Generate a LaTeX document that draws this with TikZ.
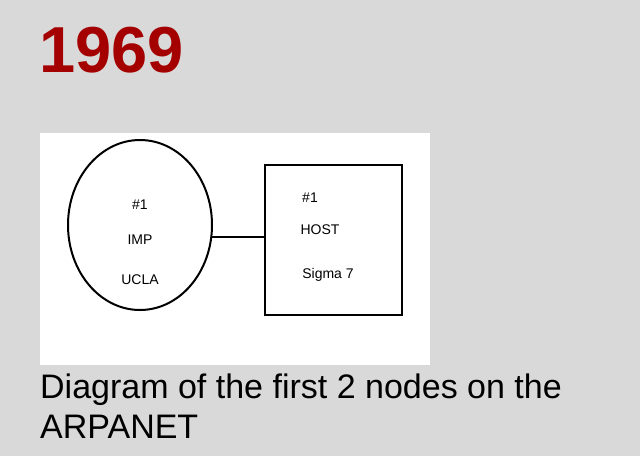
\documentclass[tikz,border=0pt]{standalone}
\usepackage{fontspec}
\setmainfont{Liberation Sans}
\definecolor{bg}{HTML}{D9D9D9}
\definecolor{yr}{HTML}{A50000}
\tikzset{hand/.style={font=\fontsize{14}{14}\selectfont, inner sep=0pt},
  ink/.style={line width=2pt, black}}
\begin{document}
\begin{tikzpicture}[x=1pt,y=-1pt]
\fill[bg] (0,0) rectangle (640,456);
\useasboundingbox (0,0) rectangle (640,456);
\node[anchor=west, text=yr, font=\fontsize{65}{65}\selectfont\bfseries, inner sep=0pt] (year) at (39,50) {1969};
\fill[white] (40,133) rectangle (430,365);
\draw[ink] (140,225) ellipse [x radius=72, y radius=85];
\node[draw, ink, minimum width=137, minimum height=150, inner sep=0pt] (host) at (333.5,240) {};
\coordinate (imp) at (212,237);
\draw[ink, line width=1.5pt] (imp) -- (host.west |- imp);
\node[hand] (i1) at (140,205) {\#1};
\node[hand] (i2) at (140,240) {IMP};
\node[hand] (i3) at (140,280) {UCLA};
\node[hand] (h1) at (310,198) {\#1};
\node[hand] (h2) at (320,230) {HOST};
\node[hand] (h3) at (328,275) {Sigma 7};
\node[anchor=west, font=\fontsize{34}{40}\selectfont, align=left, inner sep=0pt] (cap) at (40,406) {Diagram of the first 2 nodes on the\\ARPANET};
\end{tikzpicture}
\end{document}
